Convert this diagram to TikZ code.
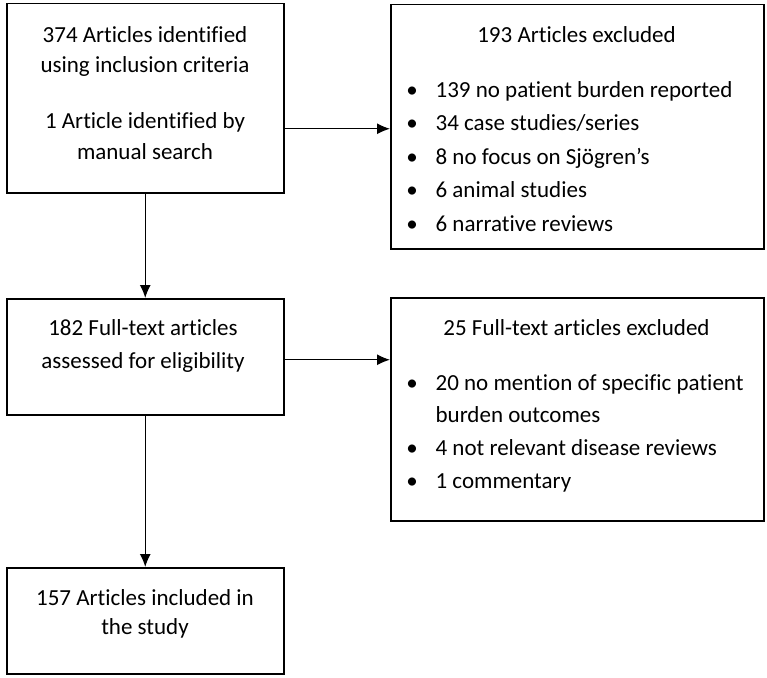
\documentclass[tikz,border=0pt]{standalone}
\usepackage{fontspec}
\setmainfont{Carlito}[Ligatures=NoCommon]
\usetikzlibrary{arrows.meta}

\tikzset{
  box/.style={draw, line width=1.5pt, anchor=north west, inner sep=0pt},
  lbl/.style={anchor=base, inner sep=0pt, font=\fontsize{23}{28}\selectfont},
  item/.style={lbl, anchor=base west},
}

\begin{document}
\begin{tikzpicture}[x=1pt,y=-1pt,>={Latex[length=13pt,width=11pt]},line width=1.2pt]

\useasboundingbox (0,0) rectangle (767,677);

\node (ident) at (6,3) [box, minimum width=277pt, minimum height=189pt] {};
\node (excl) at (390,4) [box, minimum width=373pt, minimum height=244pt] {};

\node (full) at (6,298) [box, minimum width=277pt, minimum height=116pt] {};
\node (fexcl) at (390,297) [box, minimum width=373pt, minimum height=223pt] {};

\node (incl) at (6,567) [box, minimum width=277pt, minimum height=106pt] {};

\draw [->] ([yshift=-30.5pt]ident.east) coordinate (r1) -- (r1 -| excl.west);
\draw [->] ([yshift=-3pt]full.east) coordinate (r2) -- (r2 -| fexcl.west);
\draw [->] (ident.south) -- (full.north);
\draw [->] (full.south) -- (incl.north);

% identification
\node (id1) at (145,42) [lbl] {374 Articles identified};
\node (id2) at (145,72) [lbl] {using inclusion criteria};
\node (id3) at (145,128) [lbl] {1 Article identified by};
\node (id4) at (145,159) [lbl] {manual search};

% first exclusions
\node (ex0) at (576.5,43) [lbl] {193 Articles excluded};
\node (b1) at (412,97) [lbl] {•};
\node (ex1) at (435,97) [item] {139 no patient burden reported};
\node (b2) at (412,130) [lbl] {•};
\node (ex2) at (435,130) [item] {34 case studies/series};
\node (b3) at (412,164) [lbl] {•};
\node (ex3) at (435,164) [item] {8 no focus on Sjögren’s};
\node (b4) at (412,197) [lbl] {•};
\node (ex4) at (435,197) [item] {6 animal studies};
\node (b5) at (412,231) [lbl] {•};
\node (ex5) at (435,231) [item] {6 narrative reviews};

% full text
\node (ft1) at (143,335) [lbl] {182 Full-text articles};
\node (ft2) at (143,368) [lbl] {assessed for eligibility};

\node (fx0) at (576.5,335) [lbl] {25 Full-text articles excluded};
\node (c1) at (412,390) [lbl] {•};
\node (fx1) at (435,390) [item] {20 no mention of specific patient};
\node (fx1b) at (435,422) [item] {burden outcomes};
\node (c2) at (412,455) [lbl] {•};
\node (fx2) at (435,455) [item] {4 not relevant disease reviews};
\node (c3) at (412,488) [lbl] {•};
\node (fx3) at (435,488) [item] {1 commentary};

% included
\node (in1) at (145,605) [lbl] {157 Articles included in};
\node (in2) at (145,634) [lbl] {the study};

\end{tikzpicture}
\end{document}
